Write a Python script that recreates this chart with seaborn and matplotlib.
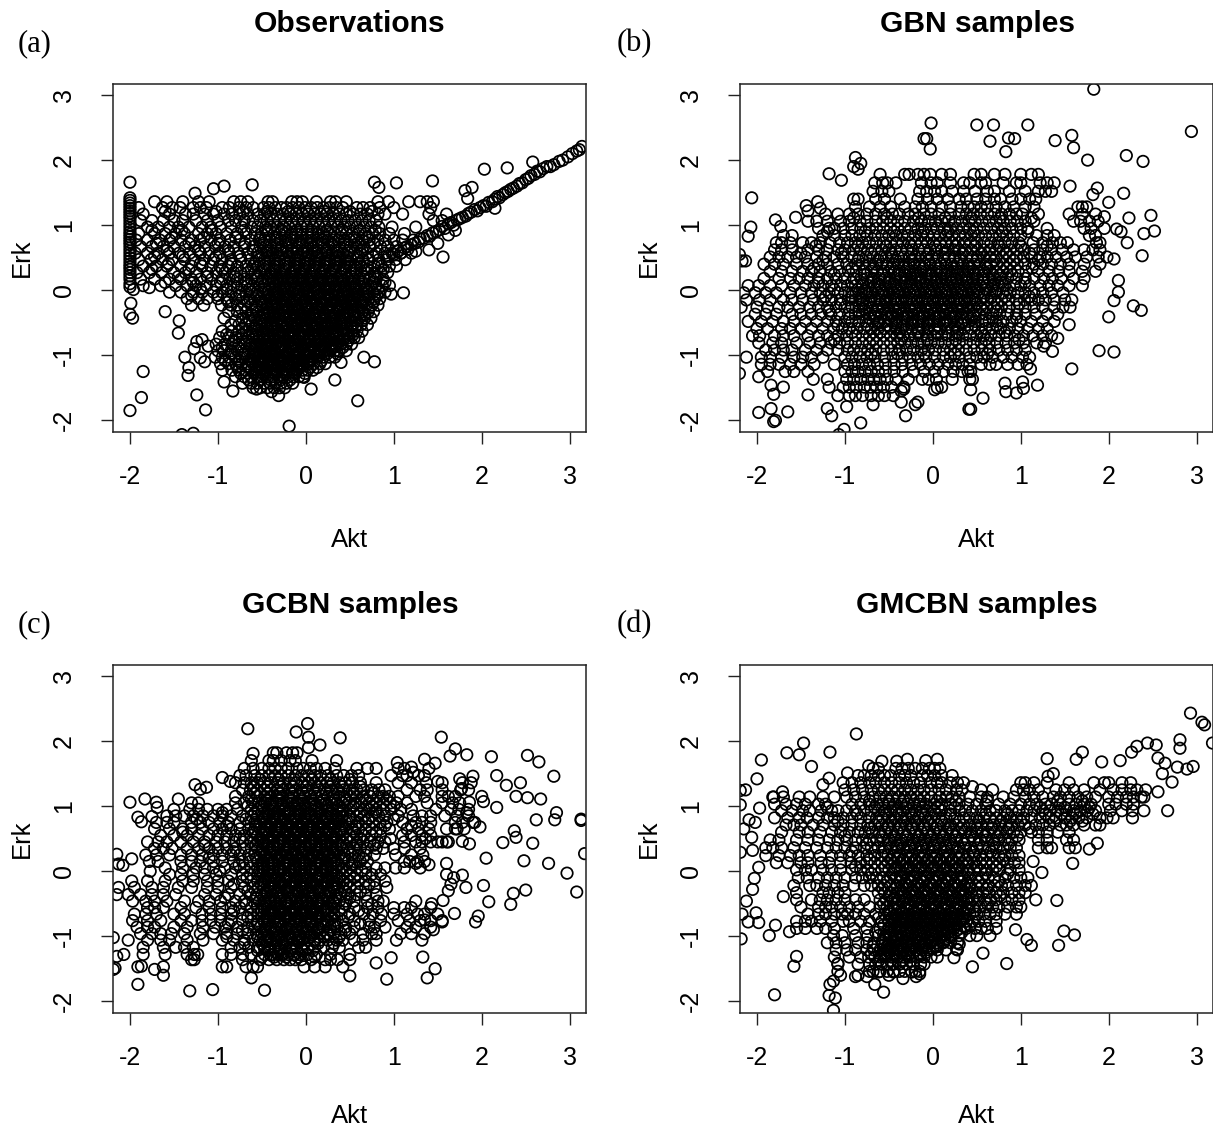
import pandas as pd
import matplotlib
matplotlib.use('Agg')
import matplotlib.pyplot as plt
import seaborn as sns

ticks = [-2, -1, 0, 1, 2, 3]

# ---- (a) Observations
obs_col_y = [1.42,1.38,1.34,1.3,1.26,1.22,1.18,1.14,1.1,1.05,1.0,.95,.9,.86,.82,.78,.74,.7,.65,.6,.55,.5,.45,.4,.36,.32,.27,.22,.17,.1,.05]
obs_pts = [(-2,1.66),(2.03,1.86),(2.29,1.88),(2.58,1.97),(3.14,2.21),(-1.05,1.56),(-.93,1.6),(-.61,1.62),(-1.26,1.49),(.78,1.66),(.83,1.58),(1.03,1.65),(1.44,1.68),
(1.56,.51),(1.11,-.04),(.97,-.06),(1.81,1.53),(1.89,1.58),(1.84,1.41),(-1.6,-.33),(-1.99,-.2),(-2,-.37),(-1.97,-.43),(-1.96,.01),(-1.78,.04),(-1.44,-.47),(-1.45,-.66),
(-1.85,-1.25),(-1.87,-1.65),(-2,-1.85),(-1.24,-1.61),(-1.14,-1.84),(-1.34,-1.31),(-1.33,-1.19),(-1.375,-1.03),(-.19,-2.09),(-1.28,-2.2),(-1.41,-2.22),(.59,-1.7),(.33,-1.38),
(.06,-1.52),(.78,-1.1),(.66,-1.03),(.4,-1.11),(-.31,-1.62),(-.39,-1.56),(-.83,-1.55),(-.56,-1.52),(-.93,-1.41),(-.02,-1.34),(.13,-1.19),(-1.24,-.79),(-1.18,-.76),(-1.2,-1.04),(-1.15,-1.1),(-1.11,-.86),(-1.27,-.9),
(1.0,.55),(1.05,.6),(1.08,.57),(1.12,.65),(1.16,.63),(1.2,.7),(1.24,.72),(1.28,.74),(1.3,.79),(1.34,.8),(1.38,.84),(1.41,.83),(1.44,.88),(1.48,.9),(1.52,.93),(1.55,.98),(1.58,.95),(1.62,1.02),(1.65,1.04),(1.68,1.0),
(1.72,1.08),(1.75,1.1),(1.78,1.12),(1.82,1.14),(1.85,1.18),(1.88,1.2),(1.92,1.24),(1.95,1.22),(1.98,1.27),(2.02,1.3),(2.05,1.29),(2.08,1.35),(2.12,1.36),(2.15,1.4),(2.18,1.44),(2.2,1.42),(2.24,1.47),(2.27,1.5),
(2.3,1.52),(2.33,1.55),(2.36,1.57),(2.4,1.6),(2.43,1.64),(2.46,1.65),(2.5,1.7),(2.53,1.72),(2.56,1.76),(2.6,1.78),(2.63,1.83),(2.66,1.82),(2.7,1.87),(2.74,1.9),(2.78,1.9),(2.82,1.93),(2.88,1.98),(2.92,2.0),(2.98,2.05),(3.03,2.1),(3.08,2.14),(3.11,2.16),
(1.25,.6),(1.4,.62),(1.5,.72),(1.7,.92),(2.15,1.26),(1.62,.85)]
obs_rows = [
(1.36,[-1.72,-1.58,-1.4,-1.22,-1.1,-.82,-.74,-.66,-.43,-.38,-.16,-.1,-.04,.12,.28,.34,.46,.82,.94,1.17,1.3,1.38,1.45]),
(1.27,[-1.9,-1.63,-1.52,-1.43,-1.28,-1.2,-1.13,-.95,-.87,-.76,-.68,-.6,-.48,-.42,-.35,-.28,-.22,-.15,-.08,-.01,.06,.13,.2,.27,.35,.42,.58,.65,.73,.84,1.0,1.42]),
(1.17,[-1.85,-1.55,-1.37,-1.28,-1.15,-1.05,-.93,-.84,-.75,-.66,-.55,-.47,-.4,-.33,-.26,-.18,-.11,-.04,.03,.1,.17,.24,.31,.38,.46,.54,.62,.7,.82,.9,1.1,1.4,1.6]),
(1.07,[-1.88,-1.75,-1.62,-1.5,-1.4,-1.25,-1.12,-1.0,-.88,-.8,-.7,-.6,-.52,-.44,-.37,-.3,-.23,-.16,-.09,-.02,.05,.12,.19,.26,.33,.4,.48,.56,.64,.72,.8,1.45,1.55]),
(.97,[-1.8,-1.68,-1.55,-1.45,-1.33,-1.18,-1.08,-.97,-.85,-.73,-.62,-.55,-.46,-.4,-.32,-.25,-.19,-.12,-.05,.01,.08,.15,.22,.29,.36,.43,.5,.58,.66,.74,.83,.98,1.25]),
(.87,[-1.9,-1.72,-1.6,-1.48,-1.38,-1.22,-1.12,-1.02,-.9,-.78,-.68,-.58,-.5,-.43,-.36,-.3,-.24,-.17,-.11,-.05,.02,.08,.14,.2,.27,.33,.4,.46,.53,.6,.68,.76,.84,.95,1.12]),
(.77,[-1.93,-1.8,-1.66,-1.55,-1.42,-1.3,-1.2,-1.08,-.98,-.86,-.75,-.63,-.53,-.47,-.41,-.35,-.29,-.23,-.17,-.11,-.05,.01,.07,.13,.19,.25,.31,.37,.44,.5,.57,.64,.72,.82,.9,1.0,1.1,1.22]),
(.67,[-1.88,-1.75,-1.62,-1.5,-1.37,-1.26,-1.15,-1.03,-.92,-.82,-.7,-.6,-.52,-.46,-.4,-.34,-.28,-.22,-.16,-.1,-.04,.02,.08,.14,.2,.26,.32,.38,.44,.51,.58,.66,.73,.85,.93,1.03,1.15]),
(.57,[-1.94,-1.8,-1.68,-1.55,-1.44,-1.32,-1.2,-1.1,-.98,-.87,-.77,-.66,-.55,-.5,-.44,-.38,-.33,-.27,-.21,-.15,-.1,-.04,.02,.07,.13,.18,.24,.3,.36,.42,.48,.55,.62,.7,.8,.9,.98,1.08,1.2]),
(.47,[-1.9,-1.76,-1.63,-1.52,-1.38,-1.27,-1.16,-1.05,-.95,-.85,-.74,-.63,-.53,-.47,-.41,-.35,-.3,-.24,-.18,-.12,-.07,-.01,.05,.1,.16,.22,.27,.33,.39,.45,.51,.58,.65,.72,.83,.92,1.02,1.13]),
(.37,[-1.85,-1.7,-1.58,-1.42,-1.3,-1.18,-1.08,-.98,-.88,-.78,-.68,-.6,-.54,-.48,-.42,-.36,-.31,-.25,-.19,-.13,-.08,-.02,.04,.09,.15,.21,.26,.32,.38,.44,.5,.56,.63,.7,.78,.86,.95,1.03]),
(.27,[-1.92,-1.78,-1.64,-1.5,-1.37,-1.25,-1.12,-1.02,-.92,-.82,-.74,-.66,-.58,-.52,-.46,-.4,-.34,-.29,-.23,-.17,-.12,-.06,0,.05,.11,.17,.22,.28,.34,.4,.45,.51,.57,.63,.7,.78,.85,.93]),
(.17,[-1.88,-1.72,-1.55,-1.42,-1.3,-1.2,-1.07,-.95,-.87,-.78,-.7,-.62,-.55,-.49,-.43,-.37,-.32,-.26,-.2,-.15,-.09,-.03,.02,.08,.14,.19,.25,.31,.36,.42,.48,.54,.6,.66,.72,.8,.88]),
(.07,[-1.85,-1.65,-1.48,-1.35,-1.25,-1.13,-1.02,-.9,-.82,-.73,-.66,-.6,-.53,-.47,-.41,-.35,-.3,-.24,-.18,-.13,-.07,-.01,.04,.1,.16,.21,.27,.33,.38,.44,.5,.56,.61,.67,.74,.8,.87,.95]),
(-.03,[-1.55,-1.42,-1.28,-1.18,-1.05,-.95,-.85,-.76,-.68,-.61,-.55,-.49,-.43,-.37,-.32,-.26,-.2,-.15,-.09,-.03,.02,.08,.14,.19,.25,.31,.36,.42,.48,.53,.59,.65,.7,.76,.83,.9]),
(-.13,[-1.35,-1.22,-1.12,-1.0,-.9,-.8,-.72,-.64,-.58,-.52,-.46,-.4,-.35,-.29,-.23,-.18,-.12,-.06,-.01,.05,.11,.16,.22,.28,.33,.39,.45,.5,.56,.61,.67,.72,.78,.84]),
(-.23,[-1.3,-1.16,-.96,-.85,-.78,-.7,-.62,-.56,-.5,-.44,-.39,-.33,-.27,-.22,-.16,-.1,-.05,.01,.07,.12,.18,.24,.29,.35,.41,.46,.52,.57,.63,.69,.75,.82]),
(-.33,[-.88,-.78,-.68,-.6,-.54,-.48,-.42,-.37,-.31,-.25,-.2,-.14,-.08,-.03,.03,.09,.14,.2,.26,.31,.37,.43,.48,.54,.59,.65,.71,.77]),
(-.43,[-.93,-.72,-.65,-.58,-.52,-.46,-.4,-.35,-.29,-.23,-.18,-.12,-.06,-.01,.05,.11,.16,.22,.28,.33,.39,.45,.5,.56,.61,.67,.74]),
(-.53,[-.85,-.76,-.69,-.62,-.56,-.5,-.44,-.38,-.33,-.27,-.21,-.16,-.1,-.04,.01,.07,.13,.18,.24,.3,.35,.41,.47,.52,.58,.63,.7]),
(-.63,[-.95,-.84,-.76,-.68,-.61,-.55,-.49,-.43,-.37,-.32,-.26,-.2,-.15,-.09,-.03,.02,.08,.14,.19,.25,.31,.36,.42,.48,.53,.58,.64]),
(-.73,[-.98,-.88,-.8,-.72,-.65,-.59,-.53,-.47,-.41,-.36,-.3,-.24,-.19,-.13,-.07,-.02,.04,.1,.15,.21,.27,.32,.38,.44,.49,.55,.6]),
(-.83,[-1.02,-.92,-.84,-.76,-.69,-.63,-.57,-.51,-.45,-.39,-.34,-.28,-.22,-.17,-.11,-.05,0,.06,.12,.17,.23,.29,.34,.4,.46,.52]),
(-.93,[-1.0,-.93,-.85,-.78,-.71,-.65,-.59,-.53,-.47,-.41,-.36,-.3,-.24,-.19,-.13,-.07,-.02,.04,.1,.15,.21,.27,.33,.38,.46]),
(-1.03,[-1.03,-.95,-.87,-.8,-.73,-.67,-.6,-.54,-.48,-.43,-.37,-.31,-.26,-.2,-.14,-.09,-.03,.03,.08,.14,.2,.27,.33]),
(-1.13,[-.97,-.88,-.8,-.73,-.66,-.6,-.54,-.48,-.43,-.37,-.31,-.26,-.2,-.14,-.09,-.03,.03,.09,.16,.22]),
(-1.23,[-.95,-.84,-.76,-.68,-.62,-.56,-.5,-.44,-.38,-.33,-.27,-.21,-.16,-.1,-.04,.02,.08]),
(-1.33,[-.8,-.7,-.62,-.55,-.49,-.43,-.37,-.31,-.26,-.2,-.14,-.08,-.03]),
(-1.43,[-.72,-.62,-.55,-.47,-.41,-.35,-.28,-.22,-.15]),
(-1.5,[-.6,-.52,-.44,-.36,-.3,-.24]),
# second pass over the dark parts
(1.21,[-1.6,-1.02,-.71,-.44,-.2,.01,.21,.5,.75]),
(.92,[-1.75,-1.41,-1.07,-.7,-.45,-.27,-.1,.06,.24,.41,.61,.79]),
(.81,[-1.52,-1.16,-.8,-.52,-.33,-.14,.04,.22,.39,.55,.7]),
(.72,[-1.7,-1.33,-1.0,-.69,-.49,-.32,-.2,-.07,.05,.18,.29,.43,.59,.77]),
(.61,[-1.58,-1.22,-.88,-.6,-.44,-.29,-.16,-.02,.1,.23,.35,.49,.64]),
(.52,[-1.72,-1.4,-1.02,-.75,-.54,-.42,-.31,-.19,-.09,.03,.13,.26,.36,.47,.6,.76,.94]),
(.41,[-1.56,-1.2,-.85,-.58,-.45,-.33,-.22,-.1,.01,.12,.24,.35,.47,.61,.82]),
(.32,[-1.75,-1.33,-.95,-.62,-.47,-.36,-.24,-.13,-.02,.09,.2,.31,.43,.55,.7,.88]),
(.21,[-1.45,-1.12,-.8,-.55,-.4,-.28,-.16,-.05,.06,.18,.29,.4,.52,.66,.78]),
(.12,[-1.6,-1.28,-.97,-.68,-.5,-.37,-.26,-.14,-.03,.07,.19,.3,.41,.53,.64,.77,.9]),
(.02,[-1.2,-.9,-.64,-.47,-.35,-.22,-.11,0,.11,.22,.34,.45,.57,.69,.82]),
(-.08,[-1.3,-1.0,-.75,-.55,-.42,-.31,-.2,-.08,.03,.14,.25,.37,.48,.6,.71,.81]),
(-.18,[-.88,-.66,-.5,-.38,-.26,-.14,-.03,.08,.19,.31,.42,.54,.65,.77]),
(-.28,[-.74,-.57,-.44,-.32,-.21,-.09,.02,.13,.25,.36,.48,.6,.72]),
(-.38,[-.62,-.48,-.37,-.25,-.14,-.03,.09,.2,.31,.43,.54,.67]),
(-.47,[-.8,-.64,-.5,-.39,-.28,-.16,-.05,.06,.18,.29,.4,.52,.64]),
(-.58,[-.72,-.58,-.46,-.35,-.23,-.12,-.01,.1,.22,.33,.45,.56]),
(-.68,[-.9,-.73,-.6,-.48,-.37,-.26,-.14,-.03,.09,.2,.31,.43,.54]),
(-.78,[-.82,-.67,-.54,-.43,-.31,-.2,-.09,.03,.14,.25,.37,.48]),
(-.88,[-.95,-.77,-.62,-.5,-.38,-.27,-.15,-.04,.07,.19,.3,.42]),
(-.98,[-.85,-.7,-.57,-.45,-.34,-.22,-.11,0,.12,.24,.36]),
(-1.08,[-.92,-.76,-.63,-.51,-.4,-.28,-.17,-.06,.06,.18]),
(-1.18,[-.78,-.65,-.53,-.41,-.3,-.18,-.07,.05]),
(-1.28,[-.74,-.59,-.46,-.35,-.23,-.12,-.01]),
(-1.38,[-.65,-.52,-.4,-.29,-.18]),
# third pass, blackest part of the lower blob
(.15,[-.33,-.21,-.08,.04,.17,.29,.43]),
(.04,[-.38,-.25,-.12,.01,.14,.27,.4,.55]),
(-.06,[-.36,-.23,-.1,.03,.16,.29,.42,.57]),
(-.16,[-.41,-.28,-.15,-.02,.11,.24,.37,.5,.63]),
(-.26,[-.39,-.26,-.13,0,.13,.26,.39,.52]),
(-.36,[-.44,-.31,-.18,-.05,.08,.21,.34,.47,.6]),
(-.41,[-.36,-.23,-.1,.03,.16,.29,.42,.55]),
(-.51,[-.47,-.34,-.21,-.08,.05,.18,.31,.44]),
(-.56,[-.53,-.4,-.27,-.14,-.01,.12,.25,.38,.51]),
(-.66,[-.45,-.32,-.19,-.06,.07,.2,.33,.46]),
(-.71,[-.56,-.43,-.3,-.17,-.04,.09,.22,.35]),
(-.76,[-.49,-.36,-.23,-.1,.03,.16,.29,.42]),
(-.86,[-.57,-.44,-.31,-.18,-.05,.08,.21,.34]),
(-.91,[-.49,-.36,-.23,-.1,.03,.16,.29]),
(-.96,[-.6,-.47,-.34,-.21,-.08,.05,.18]),
(-1.01,[-.52,-.39,-.26,-.13,0,.13]),
(-1.06,[-.59,-.46,-.33,-.2,-.07,.06]),
(-1.11,[-.51,-.38,-.25,-.12,.01]),
(-1.16,[-.57,-.44,-.31,-.18,-.05]),
(-1.21,[-.49,-.36,-.23,-.1]),
(-1.26,[-.53,-.4,-.27,-.14]),
]

# ---- (b) GBN samples
gbn_pts = [(1.83,3.09),(2.94,2.44),(-.02,2.57),(.5,2.54),(.69,2.54),(1.08,2.54),(-.1,2.33),(-.07,2.33),(-.03,2.17),(.65,2.29),(.86,2.34),(.93,2.33),(.83,2.13),(1.39,2.3),(1.58,2.38),(1.6,2.19),(1.76,2.0),(2.2,2.07),(2.39,1.98),
(1.56,1.6),(1.87,1.57),(2.17,1.49),(2.0,1.35),(1.82,1.47),(2.48,1.15),(2.23,1.11),(2.52,.91),(2.4,.87),(2.21,.73),(2.38,.53),(2.06,.48),(2.09,.94),(2.14,.9),(1.95,1.13),(2.11,.15),(2.11,-.03),(2.06,-.16),(2.28,-.24),(2.37,-.31),(2.0,-.41),(1.89,-.93),(2.06,-.95),(1.58,-1.21),
(-2.06,1.42),(-1.18,1.79),(-1.04,1.69),(-.88,2.04),(-.82,1.95),(-.9,1.9),(-.85,1.86),(-1.79,1.08),(-1.73,.98),(-2.07,.97),(-2.1,.83),(-1.56,1.12),(-1.44,1.3),(-1.31,1.36),(-1.42,1.22),(-1.28,1.26),(-2.13,.45),(-2.2,.55),(-2.17,.45),(-2.12,-1.03),(-2.2,-1.28),(-1.98,-1.33),
(-1.84,-1.46),(-1.7,-1.49),(-1.81,-1.6),(-1.42,-1.61),(-1.98,-1.88),(-1.84,-1.82),(-1.65,-1.87),(-1.79,-2.0),(-1.81,-2.02),(-1.2,-1.82),(-1.15,-1.93),(-.98,-1.79),(-.82,-2.04),(-1.01,-2.14),(-1.07,-2.22),(-.68,-1.76),(-.36,-1.72),(-.2,-1.76),(-.17,-1.72),(-.31,-1.93),(.41,-1.83),(.43,-1.83),(.57,-1.66),(.43,-1.53),(.83,-1.56),(.95,-1.58),(1.03,-1.51),(1.19,-1.46),(.82,-1.43),(1.02,-1.41),(1.11,-1.21),(1.36,-.94),(1.26,-.86),(1.42,-.74),(1.55,-.53),(-.36,-1.55),(-.33,-1.52),(.05,-1.5),(.02,-1.53)]
gbn_rows = [
(1.78,[-.6,-.32,-.27,-.17,-.1,-.03,.1,.2,.47,.55,.7,.82,1.0,1.12,1.2]),
(1.65,[-.66,-.57,-.52,-.42,-.13,-.02,.05,.2,.35,.42,.55,.6,.8,.95,1.0,1.22,1.3,1.38]),
(1.52,[-.68,-.58,-.5,-.15,-.07,.02,.1,.22,.35,.48,.62,.7,.87,1.05,1.2,1.28,1.35]),
(1.4,[-.9,-.85,-.65,-.55,-.37,-.17,-.06,.05,.17,.3,.38,.5,.6,.7,.77,.9,1.0,1.1,1.17]),
(1.28,[-.88,-.72,-.6,-.48,-.32,-.2,-.12,-.02,.1,.2,.32,.4,.47,.55,.62,.72,.82,.92,1.05,1.15,1.7,1.75,1.65]),
(1.17,[-1.22,-1.08,-.95,-.85,-.75,-.65,-.55,-.46,-.38,-.28,-.2,-.1,-.02,.07,.2,.3,.38,.46,.54,.62,.7,.78,.87,.95,1.02,1.2,1.55,1.7,1.85]),
(1.06,[-1.42,-1.32,-1.2,-1.05,-.95,-.83,-.75,-.65,-.57,-.48,-.4,-.32,-.22,-.13,-.05,.03,.1,.18,.25,.33,.41,.48,.56,.64,.72,.8,.88,.96,1.05,1.15,1.6,1.68,1.78,1.88]),
(.95,[-1.3,-1.18,-1.12,-1.02,-.92,-.82,-.72,-.64,-.56,-.48,-.4,-.32,-.25,-.17,-.09,-.02,.05,.13,.2,.27,.35,.42,.5,.58,.66,.74,.82,.9,1.0,1.08,1.3,1.72,1.8,1.95]),
(.84,[-1.7,-1.6,-1.25,-1.12,-1.0,-.92,-.83,-.75,-.66,-.58,-.5,-.42,-.35,-.28,-.2,-.13,-.06,.01,.08,.15,.22,.3,.37,.44,.52,.6,.68,.76,.84,.92,1.0,1.18,1.3,1.38,1.78,1.85]),
(.73,[-1.78,-1.72,-1.62,-1.48,-1.38,-1.28,-1.17,-1.06,-.97,-.88,-.8,-.72,-.64,-.56,-.48,-.41,-.34,-.27,-.2,-.13,-.06,.01,.08,.15,.22,.29,.36,.43,.5,.58,.66,.74,.82,.9,.98,1.14,1.25,1.36,1.45,1.53,1.86,1.9]),
(.62,[-1.8,-1.72,-1.6,-1.42,-1.3,-1.2,-1.08,-1.0,-.9,-.82,-.74,-.66,-.58,-.5,-.43,-.36,-.29,-.23,-.16,-.1,-.03,.04,.1,.17,.24,.3,.37,.44,.51,.58,.65,.72,.8,.88,.96,1.04,1.15,1.25,1.35,1.47,1.6,1.72,1.82,1.9]),
(.51,[-1.85,-1.75,-1.65,-1.55,-1.45,-1.32,-1.22,-1.12,-1.02,-.92,-.84,-.76,-.68,-.6,-.53,-.46,-.39,-.33,-.27,-.2,-.14,-.08,-.01,.05,.12,.18,.25,.31,.38,.45,.51,.58,.65,.72,.79,.87,.95,1.03,1.12,1.22,1.3,1.4,1.52,1.62,1.75,1.88,1.98]),
(.4,[-1.92,-1.8,-1.7,-1.55,-1.42,-1.3,-1.2,-1.08,-.98,-.88,-.8,-.72,-.65,-.58,-.52,-.45,-.39,-.33,-.27,-.21,-.15,-.09,-.03,.03,.09,.15,.21,.28,.34,.4,.47,.53,.6,.66,.73,.8,.88,.96,1.05,1.15,1.25,1.35,1.45,1.55,1.72,1.9]),
(.29,[-1.85,-1.72,-1.6,-1.48,-1.38,-1.28,-1.16,-1.06,-.96,-.87,-.78,-.7,-.63,-.56,-.5,-.44,-.38,-.32,-.26,-.2,-.14,-.08,-.02,.04,.1,.16,.22,.28,.34,.4,.46,.52,.58,.65,.72,.8,.88,.97,1.06,1.2,1.32,1.43,1.55,1.7,1.85]),
(.18,[-1.92,-1.75,-1.62,-1.52,-1.42,-1.3,-1.2,-1.1,-1.0,-.9,-.82,-.75,-.68,-.61,-.55,-.49,-.43,-.37,-.31,-.25,-.2,-.14,-.08,-.02,.04,.1,.15,.21,.27,.33,.39,.45,.51,.57,.63,.7,.77,.85,.95,1.05,1.15,1.26,1.36,1.46,1.6,1.72]),
(.07,[-2.1,-1.98,-1.85,-1.72,-1.58,-1.45,-1.35,-1.25,-1.15,-1.05,-.97,-.88,-.8,-.73,-.66,-.6,-.54,-.48,-.42,-.36,-.3,-.24,-.18,-.12,-.06,0,.06,.12,.18,.24,.3,.36,.42,.48,.54,.61,.68,.75,.82,.92,1.0,1.1,1.22,1.32,1.42,1.55,1.7]),
(-.04,[-2.15,-2.02,-1.9,-1.78,-1.62,-1.5,-1.38,-1.28,-1.18,-1.08,-1.0,-.92,-.84,-.76,-.69,-.62,-.56,-.5,-.44,-.38,-.32,-.26,-.2,-.14,-.08,-.02,.04,.1,.16,.22,.28,.34,.4,.46,.52,.58,.65,.72,.8,.88,.97,1.05,1.15,1.25,1.35,1.48]),
(-.15,[-2.12,-1.97,-1.85,-1.7,-1.6,-1.48,-1.36,-1.25,-1.15,-1.05,-.96,-.88,-.8,-.73,-.66,-.6,-.54,-.48,-.42,-.36,-.3,-.24,-.18,-.12,-.06,0,.06,.12,.18,.24,.3,.36,.42,.48,.55,.62,.7,.78,.86,.95,1.04,1.12,1.2,1.28,1.38,1.5,1.58]),
(-.26,[-2.18,-2.0,-1.88,-1.75,-1.65,-1.52,-1.4,-1.3,-1.2,-1.1,-1.0,-.92,-.84,-.76,-.69,-.62,-.56,-.5,-.44,-.38,-.32,-.26,-.2,-.14,-.08,-.02,.04,.1,.16,.22,.28,.34,.4,.47,.54,.62,.7,.78,.87,.96,1.05,1.15,1.25,1.38,1.48,1.56]),
(-.37,[-2.02,-1.9,-1.78,-1.6,-1.5,-1.38,-1.27,-1.16,-1.06,-.96,-.88,-.8,-.72,-.65,-.58,-.52,-.46,-.4,-.34,-.28,-.22,-.16,-.1,-.04,.02,.08,.14,.2,.26,.32,.39,.46,.53,.6,.68,.76,.85,.95,1.05,1.17,1.3,1.42]),
(-.48,[-2.1,-1.95,-1.82,-1.7,-1.58,-1.45,-1.32,-1.2,-1.1,-1.0,-.92,-.84,-.76,-.68,-.61,-.54,-.47,-.41,-.35,-.29,-.23,-.17,-.11,-.05,.01,.07,.14,.2,.27,.34,.41,.48,.56,.64,.72,.8,.9,1.0,1.12,1.25,1.38]),
(-.59,[-2.0,-1.88,-1.72,-1.62,-1.5,-1.38,-1.25,-1.13,-1.03,-.95,-.86,-.78,-.7,-.62,-.55,-.48,-.42,-.36,-.3,-.24,-.17,-.11,-.05,.02,.08,.15,.22,.29,.36,.44,.52,.6,.68,.77,.87,.97,1.08,1.2,1.3]),
(-.7,[-2.05,-1.97,-1.8,-1.7,-1.58,-1.42,-1.3,-1.2,-1.08,-.98,-.88,-.8,-.72,-.64,-.56,-.48,-.41,-.34,-.27,-.2,-.13,-.06,.02,.1,.18,.26,.34,.42,.5,.58,.66,.75,.84,.93,1.03,1.14,1.25,1.35]),
(-.81,[-1.98,-1.82,-1.72,-1.55,-1.4,-1.28,-1.16,-1.06,-.97,-.88,-.8,-.72,-.64,-.56,-.48,-.4,-.32,-.25,-.17,-.1,-.02,.06,.14,.22,.3,.38,.46,.55,.64,.73,.83,.93,1.03,1.18,1.28]),
(-.92,[-1.9,-1.8,-1.7,-1.6,-1.45,-1.32,-1.2,-1.08,-.97,-.9,-.82,-.74,-.65,-.56,-.47,-.38,-.3,-.22,-.13,-.05,.03,.12,.2,.29,.38,.47,.56,.65,.75,.85,.95,1.05]),
(-1.03,[-1.95,-1.85,-1.72,-1.58,-1.48,-1.38,-1.25,-1.0,-.92,-.83,-.75,-.66,-.55,-.45,-.35,-.26,-.17,-.08,.02,.12,.2,.3,.42,.5,.58,.68,.8,.9,1.02,1.1]),
(-1.14,[-1.95,-1.85,-1.75,-1.62,-1.5,-1.35,-1.12,-.97,-.89,-.8,-.72,-.63,-.54,-.44,-.35,-.24,-.14,-.04,.06,.17,.26,.34,.42,.55,.65,.72,.85,.97,1.07]),
(-1.25,[-1.88,-1.68,-1.58,-1.42,-1.0,-.92,-.85,-.77,-.7,-.62,-.54,-.44,-.34,-.22,-.1,.02,.12,.23,.33,.4,.43]),
(-1.37,[-1.36,-1.2,-.98,-.9,-.82,-.74,-.67,-.6,-.52,-.42,-.28,-.12,-.05,.04,.22,.42,.45]),
(-1.49,[-1.18,-1.02,-.95,-.87,-.78,-.71,-.64,-.56,-.47,-.33,.1]),
(-1.62,[-1.08,-.95,-.88,-.8,-.7,-.62,-.55,-.45]),
# second pass over the dark parts
(1.11,[-.9,-.52,-.16,.14,.44,.77,1.12]),
(.9,[-1.2,-.77,-.44,-.11,.17,.46,.79,1.08]),
(.68,[-1.33,-.85,-.53,-.25,.03,.26,.48,.75,1.0,1.3]),
(.57,[-1.5,-1.04,-.7,-.47,-.24,-.05,.14,.34,.55,.83,1.1]),
(.46,[-1.25,-.85,-.62,-.42,-.24,-.05,.13,.31,.5,.7,.92,1.2]),
(.34,[-1.35,-.92,-.67,-.47,-.29,-.11,.07,.25,.43,.62,.84,1.13]),
(.24,[-1.12,-.78,-.58,-.4,-.23,-.05,.13,.3,.48,.68,.9]),
(.12,[-1.3,-.92,-.7,-.51,-.33,-.15,.03,.21,.39,.57,.78,1.05]),
(.01,[-1.12,-.85,-.65,-.47,-.29,-.11,.07,.25,.43,.61,.84]),
(-.1,[-1.22,-.92,-.7,-.51,-.33,-.15,.03,.21,.39,.58,.82,1.1]),
(-.21,[-1.05,-.8,-.59,-.41,-.23,-.05,.13,.31,.5,.73,.98]),
(-.32,[-1.18,-.84,-.63,-.43,-.25,-.07,.11,.29,.49,.72]),
(-.43,[-.95,-.72,-.5,-.32,-.14,.04,.23,.44,.68,.95]),
(-.54,[-1.08,-.75,-.52,-.33,-.14,.05,.25,.48,.73]),
(-.65,[-.92,-.6,-.38,-.17,.05,.28,.55,.82]),
(-.76,[-1.12,-.68,-.36,-.06,.26,.6,.98]),
(-.98,[-.7,-.4,-.1,.25,.62]),
# third pass, blackest band
(.23,[-.32,-.17,-.02,.2,.37,.57,.76]),
(.1,[-.8,-.62,-.44,-.26,-.08,.1,.28,.46,.7]),
(-.01,[-.78,-.58,-.4,-.22,-.04,.14,.32,.5,.71]),
(-.12,[-.82,-.64,-.44,-.27,-.09,.09,.27,.45,.66]),
(-.18,[-.72,-.54,-.36,-.18,0,.18,.36]),
(-.29,[-.78,-.57,-.39,-.21,-.03,.15,.33,.56]),
(-.4,[-.66,-.47,-.29,-.11,.07,.25,.47]),
(-.51,[-.62,-.42,-.24,-.06,.12,.32]),
]

# ---- (c) GCBN samples
gcbn_pts = [(-.66,2.19),(.02,2.27),(-.11,2.14),(.03,2.06),(.39,2.05),(.16,1.94),(.03,1.9),(1.54,2.06),(1.7,1.88),(1.64,1.77),(1.83,1.79),(2.11,1.76),(2.52,1.78),(2.65,1.68),(2.82,1.46),(2.17,1.47),(2.28,1.32),(2.44,1.36),(2.39,1.15),(2.52,1.13),(2.67,1.11),(2.17,.98),(2.85,.9),(2.83,.79),(2.62,.79),(3.13,.8),(3.13,.78),(2.37,.62),(2.39,.52),(2.24,.44),(2.58,.43),(2.05,.2),(2.48,.16),(2.76,.12),(3.17,.27),(2.97,-.03),(3.08,-.32),(2.5,-.29),(2.36,-.34),(2.33,-.51),(2.08,-.47),(2.02,-.22),(1.96,-.69),(1.93,-.78),(1.69,-.65),(1.47,-1.5),(1.38,-1.64),(1.33,-1.32),(.92,-1.66),(.97,-1.33),(.8,-1.41),(.5,-1.61),(-.47,-1.83),(-.62,-1.64),(-1.06,-1.82),(-1.32,-1.84),(-1.91,-1.74),(-1.62,-1.6),(-1.72,-1.51),(-1.87,-1.46),(-1.91,-1.47),(-2.17,-1.49),(-2.19,-1.51),(-2.15,-1.31),(-2.07,-1.28),(-2.19,-1.02),(-2.0,1.06),(-1.83,1.11),(-1.7,1.06),(-1.69,.98),(-1.91,.83),(-1.87,.76),(-1.75,.84),(-1.98,.19),(-2.15,.26),(-2.13,.11),(-2.08,.09),(-1.77,0),(-1.45,1.11),(-1.26,1.33),(-1.2,1.26),(-1.13,1.29),(-.95,1.44),(-.86,1.38),(-.6,1.81),
(1.35,1.72),(1.47,1.66),(1.04,1.67),(1.2,1.6),(1.22,1.52),(1.5,1.38),(1.75,1.42),(1.9,1.46),(1.77,1.27),(1.86,1.06),(2.0,1.15),(2.02,1.07),(1.83,.9),(1.9,.75),(1.98,.68),(1.7,.65),(1.86,.42),(1.78,.46),(1.6,.45),(1.5,.45),(1.4,.1),(1.25,.12),(1.6,.12),(1.68,-.1),(1.62,-.3),(1.78,-.06),(1.82,-.25),(1.65,-.2),(1.56,-.45),(1.43,-.5),(1.35,-.75),(1.45,-.9),(1.55,-.78)]
gcbn_rows = [
(1.82,[-.37,-.33,-.22,-.15,-.1]),
(1.7,[-.62,-.42,-.37,-.28,-.18,-.12,.07,.35]),
(1.58,[-.7,-.6,-.5,-.42,-.35,-.28,-.2,-.1,-.03,.05,.12,.22,.33,.58,.7,.8,1.05,1.12,1.4]),
(1.47,[-.75,-.68,-.58,-.5,-.42,-.35,-.28,-.2,-.12,-.05,.03,.1,.17,.25,.35,.43,.52,.6,.97,1.1,1.15,1.28,1.35]),
(1.36,[-.8,-.7,-.62,-.55,-.47,-.4,-.32,-.25,-.18,-.11,-.04,.03,.1,.17,.24,.31,.38,.45,.53,.62,.8,1.05,1.2,1.37,1.55,1.78,1.88]),
(1.25,[-.72,-.63,-.55,-.47,-.4,-.33,-.26,-.19,-.12,-.05,.02,.08,.15,.22,.29,.36,.43,.5,.58,.66,.75,.83,.9,1.15,1.3,1.38,1.55,1.76,1.85]),
(1.15,[-.8,-.65,-.55,-.47,-.4,-.33,-.27,-.2,-.14,-.07,-.01,.05,.12,.18,.25,.31,.38,.44,.51,.58,.65,.73,.82,.88,.95,1.05,1.25,1.35,1.55,1.62,1.7]),
(1.05,[-1.3,-1.22,-.8,-.7,-.6,-.53,-.46,-.4,-.34,-.27,-.21,-.15,-.09,-.02,.04,.1,.16,.23,.29,.35,.42,.49,.56,.63,.72,.8,.88,.96,1.03,1.15,1.38,1.55,1.67,1.75]),
(.95,[-1.5,-1.32,-1.22,-1.12,-1.0,-.9,-.78,-.62,-.55,-.48,-.42,-.36,-.3,-.24,-.18,-.12,-.06,0,.06,.12,.18,.24,.3,.36,.43,.5,.58,.66,.72,.8,.88,.97,1.08,1.2,1.48,1.65,1.74,1.85]),
(.85,[-1.58,-1.48,-1.38,-1.28,-1.17,-1.05,-.95,-.85,-.72,-.62,-.55,-.49,-.43,-.37,-.31,-.25,-.19,-.13,-.07,-.01,.05,.11,.17,.23,.29,.35,.42,.5,.58,.66,.75,.83,.9,1.05,1.22,1.32,1.42,1.58,1.72,1.85]),
(.75,[-1.7,-1.58,-1.5,-1.3,-1.2,-1.1,-.98,-.88,-.75,-.65,-.58,-.52,-.46,-.4,-.34,-.28,-.22,-.16,-.1,-.04,.02,.08,.14,.2,.26,.32,.38,.45,.52,.6,.68,.76,.84,.92,1.1,1.25,1.32,1.42,1.7,1.78,1.92]),
(.65,[-1.72,-1.55,-1.4,-1.3,-1.18,-1.05,-.95,-.85,-.75,-.65,-.58,-.52,-.46,-.4,-.34,-.28,-.22,-.16,-.1,-.04,.02,.08,.14,.2,.26,.32,.39,.46,.53,.6,.68,.75,.85,.95,1.15,1.28,1.4,1.6,1.72,1.8]),
(.55,[-1.65,-1.5,-1.35,-1.22,-1.1,-1.0,-.9,-.8,-.7,-.62,-.55,-.49,-.43,-.37,-.31,-.25,-.19,-.13,-.07,-.01,.05,.11,.17,.23,.29,.35,.42,.5,.58,.66,.75,.85,1.1,1.2,1.32,1.42]),
(.45,[-1.8,-1.68,-1.58,-1.42,-1.28,-1.15,-1.02,-.92,-.82,-.72,-.63,-.55,-.49,-.43,-.37,-.31,-.25,-.19,-.13,-.07,-.01,.05,.11,.17,.23,.29,.35,.42,.5,.58,.65,.73,.82,.9,1.12,1.25,1.32,1.42,1.55,1.62]),
(.35,[-1.72,-1.62,-1.52,-1.35,-1.22,-1.1,-1.0,-.9,-.8,-.7,-.62,-.55,-.49,-.43,-.37,-.31,-.25,-.19,-.13,-.07,-.01,.05,.11,.17,.23,.29,.35,.41,.48,.55,.62,.7,.8,.88,1.0,1.12,1.3]),
(.25,[-1.82,-1.7,-1.55,-1.42,-1.3,-1.18,-1.05,-.95,-.85,-.75,-.65,-.58,-.52,-.46,-.4,-.34,-.28,-.22,-.16,-.1,-.04,.02,.08,.14,.2,.26,.32,.38,.44,.52,.6,.68,.78,1.02,1.2,1.33]),
(.15,[-1.78,-1.68,-1.42,-1.3,-1.2,-1.05,-.95,-.82,-.72,-.63,-.55,-.49,-.43,-.37,-.31,-.25,-.19,-.13,-.07,-.01,.05,.11,.17,.23,.29,.35,.41,.48,.55,.62,.7,1.12,1.18,1.27,1.35]),
(.05,[-1.6,-1.4,-1.25,-1.15,-1.05,-.92,-.8,-.7,-.62,-.55,-.49,-.43,-.37,-.31,-.25,-.19,-.13,-.07,-.01,.05,.11,.17,.23,.29,.35,.42,.5,.58,.68,.8,.9,1.02,1.12,1.3]),
(-.05,[-1.55,-1.42,-1.28,-1.15,-1.02,-.85,-.72,-.63,-.55,-.49,-.43,-.37,-.31,-.25,-.19,-.13,-.07,-.01,.05,.11,.17,.23,.29,.35,.42,.5,.58,.68,.75,.85,1.6]),
(-.15,[-1.98,-1.8,-1.6,-1.4,-1.28,-1.12,-1.0,-.88,-.72,-.62,-.55,-.48,-.42,-.36,-.3,-.24,-.18,-.12,-.06,0,.06,.12,.18,.24,.3,.36,.43,.5,.6,.68,.78,.9]),
(-.25,[-2.13,-1.95,-1.75,-1.62,-1.45,-1.3,-1.12,-1.0,-.85,-.7,-.6,-.54,-.48,-.42,-.36,-.3,-.24,-.18,-.12,-.06,0,.06,.12,.18,.24,.3,.36,.42,.5,.58,.68,.78,.92]),
(-.36,[-2.15,-2.02,-1.88,-1.75,-1.62,-1.48,-1.15,-1.02,-.88,-.75,-.63,-.56,-.5,-.44,-.38,-.32,-.26,-.2,-.14,-.08,-.02,.04,.1,.16,.22,.28,.34,.4,.48,.58,.68,.8]),
(-.46,[-1.97,-1.82,-1.72,-1.58,-1.38,-1.22,-1.1,-.97,-.8,-.7,-.6,-.53,-.47,-.41,-.35,-.29,-.23,-.17,-.11,-.05,.01,.07,.13,.19,.25,.31,.38,.46,.55,.7,.82,.88,1.25]),
(-.56,[-1.8,-1.72,-1.62,-1.42,-1.25,-1.1,-.95,-.85,-.75,-.62,-.55,-.48,-.42,-.36,-.3,-.24,-.18,-.12,-.06,0,.06,.12,.18,.25,.32,.42,.55,.7,.82,1.0,1.12,1.2,1.42]),
(-.66,[-1.95,-1.82,-1.7,-1.5,-1.38,-1.18,-1.08,-.97,-.85,-.72,-.62,-.55,-.48,-.42,-.36,-.3,-.24,-.18,-.12,-.06,0,.06,.12,.18,.25,.32,.4,.5,.66,.76,.86,1.0,1.15,1.27,1.35,1.5]),
(-.76,[-1.97,-1.8,-1.65,-1.42,-1.3,-1.18,-1.08,-.97,-.85,-.72,-.62,-.55,-.48,-.42,-.36,-.3,-.24,-.18,-.12,-.06,0,.06,.12,.18,.25,.33,.42,.55,.72,.85,1.05,1.18,1.3,1.42,1.55]),
(-.86,[-1.92,-1.8,-1.72,-1.5,-1.35,-1.17,-1.03,-.92,-.78,-.66,-.58,-.52,-.46,-.4,-.34,-.28,-.22,-.16,-.1,-.04,.02,.08,.14,.2,.28,.36,.45,.55,.72,.78,.9,1.15,1.25,1.42]),
(-.96,[-1.88,-1.75,-1.65,-1.53,-1.38,-1.2,-1.05,-.9,-.78,-.66,-.56,-.5,-.44,-.38,-.32,-.26,-.2,-.14,-.08,-.02,.04,.1,.16,.24,.32,.4,.5,.65,.75,.8,1.08,1.2,1.35]),
(-1.06,[-2.02,-1.8,-1.65,-1.55,-1.35,-1.17,-.95,-.82,-.7,-.6,-.52,-.46,-.4,-.34,-.28,-.22,-.16,-.1,-.04,.02,.09,.16,.25,.35,.42,.55,.65,.8,1.03,1.32]),
(-1.17,[-1.85,-1.62,-1.48,-1.38,-1.28,-.85,-.75,-.65,-.55,-.47,-.41,-.35,-.29,-.23,-.17,-.11,-.05,.02,.1,.2,.3,.38,.6,.68]),
(-1.28,[-1.85,-1.6,-1.35,-1.27,-1.23,-.95,-.85,-.72,-.62,-.47,-.38,-.32,-.26,-.2,-.14,-.07,.02,.12,.28,.5]),
(-1.36,[-1.3,-1.27,-.72,-.52,-.42,-.33,-.25,-.18,-.12,-.05,.06,.22,.28,.36,.5]),
(-1.47,[-1.62,-.95,-.9,-.68,-.6,-.55,-.02,.1,.22,.42]),
# second pass over the dark parts
(1.41,[-.52,-.31,-.13,.07,.28,.5]),
(1.3,[-.6,-.44,-.28,-.15,.01,.13,.27,.41,.62]),
(1.2,[-.58,-.43,-.3,-.16,-.03,.1,.23,.37,.54,.76]),
(1.1,[-.62,-.45,-.31,-.18,-.05,.07,.2,.33,.46,.68,.92]),
(1.0,[-.66,-.5,-.38,-.26,-.13,-.01,.11,.25,.38,.54,.75,1.0]),
(.9,[-.95,-.58,-.44,-.33,-.21,-.09,.03,.15,.27,.4,.62,.8]),
(.8,[-1.24,-.68,-.49,-.37,-.25,-.13,-.01,.11,.23,.35,.5,.71,1.0]),
(.7,[-.9,-.56,-.43,-.31,-.19,-.07,.05,.17,.29,.42,.57,.9,1.2]),
(.6,[-1.4,-.6,-.46,-.34,-.22,-.1,.02,.14,.26,.39,.55,.8]),
(.5,[-.75,-.52,-.4,-.28,-.16,-.04,.08,.2,.32,.46,.62,.96,1.36]),
(.4,[-1.15,-.57,-.44,-.32,-.2,-.08,.04,.16,.28,.4,.58,.78]),
(.3,[-.82,-.5,-.37,-.25,-.13,-.01,.11,.23,.35,.5]),
(.2,[-1.1,-.56,-.43,-.31,-.19,-.07,.05,.17,.29,.44,.65]),
(.1,[-.76,-.48,-.36,-.24,-.12,0,.12,.24,.37,.52]),
(0,[-.98,-.53,-.41,-.29,-.17,-.05,.07,.19,.31,.46,.64]),
(-.1,[-.67,-.46,-.34,-.22,-.1,.02,.14,.26,.39,.55]),
(-.2,[-.82,-.51,-.39,-.27,-.15,-.03,.09,.21,.33,.46,.72]),
(-.31,[-.66,-.45,-.33,-.21,-.09,.03,.15,.27,.44,.62]),
(-.41,[-.92,-.56,-.41,-.29,-.17,-.05,.07,.19,.33,.5]),
(-.51,[-.68,-.45,-.33,-.21,-.09,.03,.15,.28,.45,.75]),
(-.61,[-.82,-.51,-.39,-.27,-.15,-.03,.09,.22,.38,.6]),
(-.71,[-.66,-.45,-.33,-.21,-.09,.03,.15,.3,.48]),
(-.81,[-.88,-.55,-.43,-.31,-.19,-.07,.05,.17,.32,.62]),
(-.91,[-.72,-.47,-.35,-.23,-.11,.01,.13,.28,.45]),
(-1.01,[-.9,-.55,-.43,-.31,-.19,-.07,.05,.2,.38]),
(-1.11,[-.7,-.5,-.38,-.26,-.14,-.02,.14,.32]),
(-1.22,[-.55,-.43,-.29,-.17,-.04,.08]),
(-1.32,[-.5,-.36,-.22,-.09,.1]),
# third pass, black column
(1.03,[-.41,-.27,-.1,.06,.22]),
(.93,[-.4,-.24,-.08,.09,.25,.41]),
(.83,[-.46,-.29,-.11,.07,.24,.41]),
(.73,[-.39,-.22,-.04,.13,.3]),
(.63,[-.49,-.31,-.13,.05,.23,.4]),
(.53,[-.37,-.2,-.02,.15,.33]),
(.43,[-.47,-.29,-.11,.07,.25]),
(.33,[-.41,-.23,-.05,.13,.31]),
(.23,[-.47,-.29,-.11,.07,.25]),
(.13,[-.4,-.22,-.04,.14,.32]),
(.03,[-.47,-.29,-.11,.07,.25]),
(-.07,[-.4,-.22,-.04,.14,.32]),
(-.17,[-.47,-.29,-.11,.07,.25]),
(-.27,[-.4,-.22,-.04,.14,.32]),
(-.38,[-.47,-.29,-.11,.07,.25]),
(-.48,[-.4,-.22,-.04,.14,.32]),
(-.58,[-.47,-.29,-.11,.07,.25]),
(-.68,[-.4,-.22,-.04,.14,.32]),
(-.78,[-.47,-.29,-.11,.07,.25]),
(-.88,[-.4,-.22,-.04,.14]),
(-.98,[-.47,-.29,-.11,.07,.25]),
(-1.08,[-.44,-.26,-.08,.1]),
(-1.19,[-.47,-.31,-.14,.02]),
(-1.29,[-.4,-.28,-.13]),
]

# ---- (d) GMCBN samples
gmcbn_pts = [(-.87,2.11),(-1.47,1.97),(-1.66,1.82),(-1.52,1.79),(-1.17,1.83),(-1.95,1.71),(-1.38,1.61),(-2.0,1.42),(-1.18,1.43),(-1.25,1.33),(-2.13,1.25),(-2.19,1.24),(-1.71,1.22),(-1.81,1.14),(-1.97,.97),(-2.19,1.02),(-2.09,.79),(-2.02,.75),(-2.15,.65),(-2.06,.52),(-2.05,.32),(-2.19,.29),(-1.98,.06),(-2.03,-.11),(-2.05,-.28),(-2.12,-.46),(-1.7,-.39),(-2.01,-.64),(-2.17,-.66),(-2.1,-.78),(-1.98,-.79),(-1.79,-.83),(-1.86,-.99),(-2.18,-1.04),(-1.63,-.93),(-1.55,-1.31),(-1.58,-1.46),(-1.8,-1.9),(-1.13,-1.69),(-1.17,-1.74),(-1.18,-1.91),(-1.11,-1.95),(-1.13,-2.14),(-.66,-1.74),(-.56,-1.86),(-.34,-1.65),(.45,-1.47),(.84,-1.42),(.57,-1.26),(.24,-1.33),(1.43,-1.14),(1.49,-.92),(1.61,-.98),(1.07,-1.05),(1.12,-1.14),(.94,-.9),(1.41,-.45),(1.17,-.44),(1.24,-.02),(1.59,.12),(1.14,.15),(1.87,.43),(1.78,.34),(2.67,.93),(2.4,.93),(2.56,1.22),(2.72,1.37),(2.61,1.5),(2.78,1.6),(2.89,1.57),(2.96,1.61),(2.64,1.66),(2.56,1.74),(2.44,1.97),(2.54,1.94),(2.32,1.92),(2.26,1.83),(2.81,2.02),(2.81,1.89),(2.93,2.43),(3.06,2.29),(3.09,2.25),(3.18,1.97),(1.7,1.83),(1.63,1.72),(1.3,1.73),(1.92,1.68),(2.13,1.7),(1.37,1.5),(1.31,1.46),(.45,1.3),(.22,1.47),(.05,1.72),(-.08,1.7),(-.29,1.72),(-.41,1.69),(-.58,1.69),(-.73,1.62),(-.97,1.51),
(-1.05,-1.6),(-1.08,-1.42),(-.85,-1.6),(-.88,-1.62),(-.75,-1.62),(-.62,-1.55),(-.5,-1.6),(-.24,-1.55),(-.15,-1.58),(-.19,-1.62),(-.45,-1.55),(.27,-1.2),(.3,-1.12)]
gmcbn_rows = [
(1.58,[-.68,-.62,-.42,-.35,-.28,-.2,-.12,-.04,.02,.08]),
(1.47,[-.85,-.78,-.7,-.62,-.55,-.48,-.38,-.32,-.25,-.12,-.06,.02,.1]),
(1.36,[-1.02,-.92,-.82,-.72,-.65,-.55,-.47,-.38,-.3,-.22,-.14,-.03,.05,.1,.2,.28,.35,1.0,1.05,1.15,1.3,1.55,1.83,1.95,2.0,2.15,2.25]),
(1.25,[-1.0,-.9,-.8,-.7,-.62,-.55,-.47,-.4,-.32,-.25,-.17,-.1,-.02,.07,.15,.27,.33,.55,.68,.95,1.03,1.1,1.2,1.4,1.5,1.6,1.72,1.9,2.05,2.15,2.25,2.32,2.42]),
(1.14,[-1.82,-1.7,-1.52,-1.4,-1.25,-1.12,-.98,-.88,-.78,-.68,-.6,-.53,-.46,-.39,-.32,-.25,-.18,-.1,-.02,.08,.15,.22,.3,.42,.55,.62,.8,.92,1.05,1.15,1.25,1.37,1.45,1.55,1.65,1.75,1.85,2.0,2.1,2.2,2.28,2.37,2.4]),
(1.03,[-1.8,-1.67,-1.55,-1.45,-1.3,-1.22,-.92,-.82,-.72,-.64,-.57,-.5,-.43,-.36,-.29,-.22,-.15,-.08,.02,.1,.2,.3,.4,.5,.6,.75,.88,1.0,1.1,1.18,1.28,1.35,1.45,1.55,1.63,1.72,1.8,2.0,2.08,2.2,2.28]),
(.93,[-1.72,-1.6,-1.48,-1.4,-1.27,-1.15,-1.08,-.98,-.88,-.78,-.7,-.62,-.55,-.48,-.41,-.34,-.27,-.2,-.13,-.06,.02,.1,.2,.3,.37,.45,.55,.65,.72,.82,.9,.98,1.07,1.15,1.25,1.33,1.42,1.52,1.6,1.68,1.76,1.85,2.02,2.15,2.27]),
(.82,[-1.8,-1.65,-1.52,-1.43,-1.3,-1.2,-1.12,-1.02,-.92,-.82,-.72,-.64,-.57,-.5,-.43,-.36,-.3,-.23,-.16,-.09,-.02,.07,.15,.25,.35,.42,.5,.58,.65,.72,.8,.88,.95,1.03,1.12,1.22,1.32,1.4,1.5,1.58,1.66,1.75,1.9,1.98,2.05,2.27]),
(.71,[-1.67,-1.58,-1.5,-1.36,-1.25,-1.12,-1.02,-.92,-.82,-.74,-.66,-.58,-.51,-.44,-.37,-.3,-.24,-.17,-.1,-.03,.05,.12,.2,.27,.35,.42,.48,.55,.62,.69,.76,.83,.9,.97,1.05,1.17,1.25,1.33,1.45,1.52,1.6,1.72,1.85,1.9]),
(.6,[-1.72,-1.52,-1.42,-1.28,-1.15,-1.05,-.95,-.85,-.77,-.69,-.61,-.54,-.47,-.4,-.33,-.27,-.2,-.13,-.06,.01,.08,.15,.22,.29,.36,.43,.5,.57,.63,.7,.77,.84,.92,1.0,1.12,1.2,1.3,1.42,1.55]),
(.48,[-1.85,-1.75,-1.55,-1.42,-1.3,-1.18,-1.08,-.98,-.88,-.8,-.72,-.64,-.57,-.5,-.43,-.36,-.3,-.23,-.16,-.09,-.02,.05,.12,.19,.26,.33,.4,.47,.54,.61,.68,.75,.82,.9,.98,1.2,1.3,1.52,1.6]),
(.36,[-1.9,-1.82,-1.72,-1.58,-1.45,-1.32,-1.2,-1.1,-1.0,-.88,-.78,-.7,-.62,-.55,-.48,-.41,-.34,-.27,-.2,-.13,-.06,.01,.08,.15,.22,.29,.36,.43,.5,.57,.64,.72,.8,.88,.95,1.2,1.3,1.35,1.55,1.62]),
(.24,[-1.9,-1.75,-1.62,-1.52,-1.42,-1.28,-1.15,-1.05,-.95,-.85,-.75,-.66,-.58,-.51,-.44,-.37,-.3,-.23,-.16,-.09,-.02,.05,.12,.19,.26,.33,.4,.47,.54,.61,.68,.75,.82,.9,.98]),
(.13,[-1.78,-1.65,-1.5,-1.42,-1.27,-1.18,-1.05,-.93,-.82,-.75,-.66,-.58,-.51,-.44,-.37,-.3,-.23,-.16,-.09,-.02,.05,.12,.19,.26,.33,.4,.47,.54,.61,.68,.76,.85,.93,.98]),
(.02,[-1.55,-1.45,-1.38,-1.25,-1.15,-1.05,-.92,-.82,-.74,-.66,-.58,-.5,-.44,-.37,-.3,-.23,-.16,-.09,-.02,.05,.12,.19,.26,.33,.4,.47,.54,.61,.68,.76,.88,.98]),
(-.1,[-1.53,-1.43,-1.3,-1.2,-1.1,-1.0,-.88,-.8,-.72,-.64,-.56,-.48,-.42,-.35,-.28,-.21,-.14,-.07,0,.07,.14,.21,.28,.35,.42,.49,.56,.63,.7,.82,.92,1.0,1.08]),
(-.22,[-1.58,-1.4,-1.32,-1.22,-1.12,-1.02,-.9,-.78,-.7,-.62,-.55,-.48,-.41,-.35,-.28,-.21,-.14,-.07,0,.07,.14,.21,.28,.35,.42,.49,.56,.63,.7,.78,.85,.95,1.05,1.12]),
(-.33,[-1.55,-1.25,-1.18,-1.08,-1.0,-.62,-.55,-.48,-.41,-.34,-.27,-.2,-.13,-.06,.01,.08,.15,.22,.29,.36,.43,.5,.57,.64,.72,.8,.9,.98,1.05]),
(-.44,[-1.55,-1.38,-1.28,-1.2,-1.1,-1.0,-.88,-.78,-.6,-.53,-.46,-.39,-.32,-.25,-.18,-.11,-.04,.03,.1,.17,.24,.31,.38,.45,.52,.59,.66,.72,.82,.9,.98]),
(-.55,[-1.5,-1.3,-1.22,-1.15,-1.05,-.95,-.85,-.72,-.6,-.52,-.45,-.38,-.31,-.24,-.17,-.1,-.03,.04,.11,.18,.25,.32,.39,.46,.53,.6,.68,.75,.85,.95,1.0]),
(-.66,[-1.42,-1.3,-1.22,-1.12,-1.03,-.97,-.88,-.78,-.65,-.55,-.48,-.41,-.35,-.28,-.21,-.14,-.07,0,.07,.14,.21,.28,.35,.42,.5,.58,.65,.72,.82,.95]),
(-.77,[-1.55,-1.45,-1.38,-1.28,-1.15,-1.02,-.95,-.82,-.72,-.58,-.5,-.44,-.38,-.32,-.25,-.18,-.11,-.04,.03,.1,.17,.24,.31,.38,.45,.52,.6,.72]),
(-.88,[-1.55,-1.45,-1.32,-1.22,-1.12,-.9,-.75,-.6,-.5,-.44,-.38,-.31,-.25,-.18,-.11,-.04,.03,.1,.17,.24,.31,.38,.48,.55,.62,.72]),
(-.99,[-1.13,-1.03,-.88,-.74,-.62,-.54,-.48,-.42,-.36,-.3,-.23,-.16,-.09,-.02,.05,.12,.2,.3,.42,.5,.65]),
(-1.1,[-1.2,-1.1,-1.0,-.85,-.75,-.67,-.58,-.5,-.44,-.37,-.3,-.23,-.16,-.09,-.02,.05,.12,.2,.28]),
(-1.21,[-1.1,-.98,-.88,-.75,-.67,-.6,-.53,-.46,-.4,-.33,-.26,-.19,-.12,-.04,.05,.15,.28]),
(-1.32,[-1.12,-.95,-.82,-.73,-.66,-.6,-.53,-.47,-.4,-.33,-.26,-.18,-.1,-.02,.05]),
(-1.43,[-1.08,-.85,-.72,-.65,-.58,-.52,-.45,-.38,-.3,-.22,-.14,-.1]),
(-1.54,[-1.08,-.72,-.68,-.6,-.52,-.44,-.38,-.32,-.2,-.15]),
# second pass over the dark parts
(1.08,[-.72,-.5,-.33,-.15,.05,.26,.62,1.42,1.7]),
(.98,[-1.2,-.66,-.46,-.3,-.12,.06,.25,1.22,1.5,1.78]),
(.88,[-.86,-.53,-.39,-.25,-.11,.03,.2,.6,.85,1.28,1.46,1.62,1.82]),
(.77,[-1.08,-.62,-.47,-.33,-.2,-.06,.1,.3,.52,.78,1.0,1.38,1.56,1.7]),
(.66,[-.72,-.51,-.38,-.24,-.1,.04,.18,.33,.5,.67,.86,1.1]),
(.54,[-1.0,-.58,-.44,-.3,-.16,-.02,.12,.26,.44,.6,.74,.96]),
(.42,[-.75,-.5,-.36,-.22,-.08,.06,.2,.36,.52,.7,.86]),
(.3,[-.92,-.56,-.42,-.28,-.14,0,.14,.29,.46,.66]),
(.18,[-.72,-.48,-.34,-.2,-.06,.08,.22,.38,.56,.8]),
(.07,[-.88,-.55,-.41,-.27,-.13,.01,.15,.3,.5,.72]),
(-.04,[-.7,-.46,-.32,-.18,-.04,.1,.24,.4,.6,.85]),
(-.16,[-.52,-.38,-.24,-.1,.04,.18,.33,.52,.75]),
(-.27,[-.57,-.43,-.3,-.16,-.02,.12,.26,.42,.62]),
(-.38,[-.5,-.36,-.22,-.08,.06,.2,.34,.5,.76]),
(-.5,[-.56,-.42,-.28,-.14,0,.14,.28,.42,.62]),
(-.61,[-.5,-.36,-.22,-.08,.06,.2,.34,.48]),
(-.72,[-.62,-.47,-.34,-.2,-.06,.08,.22,.36]),
(-.83,[-.56,-.41,-.28,-.15,-.01,.13,.27,.42]),
(-.94,[-.65,-.5,-.37,-.24,-.1,.04,.17,.33]),
(-1.05,[-.55,-.41,-.28,-.14,0,.14]),
(-1.16,[-.68,-.52,-.37,-.24,-.1,.05]),
(-1.27,[-.7,-.55,-.43,-.3,-.16]),
(-1.38,[-.62,-.48,-.35,-.25]),
# third pass, black core
(.4,[-.41,-.27,-.13,.01,.15]),
(.2,[-.4,-.26,-.12,.02,.16,.3]),
(.05,[-.43,-.29,-.15,-.01,.13,.27]),
(-.07,[-.37,-.23,-.09,.05,.19,.33]),
(-.18,[-.31,-.17,-.03,.11,.25,.39]),
(-.3,[-.36,-.22,-.08,.06,.2,.34]),
(-.41,[-.43,-.29,-.15,-.01,.13,.27,.41]),
(-.47,[-.35,-.21,-.07,.07,.21,.35]),
(-.58,[-.43,-.29,-.15,-.01,.13,.27,.41]),
(-.64,[-.34,-.2,-.06,.08,.22,.36]),
(-.69,[-.42,-.28,-.14,0,.14,.28]),
(-.75,[-.5,-.36,-.22,-.08,.06,.2,.34]),
(-.8,[-.44,-.3,-.16,-.02,.12,.26]),
(-.86,[-.5,-.36,-.22,-.08,.06,.2,.36]),
(-.91,[-.43,-.29,-.15,-.01,.13,.27]),
(-.97,[-.56,-.42,-.28,-.14,0,.14]),
(-1.02,[-.49,-.35,-.21,-.07,.07,.2]),
(-1.08,[-.57,-.43,-.29,-.15,-.01,.13]),
(-1.13,[-.5,-.36,-.22,-.08,.06]),
(-1.19,[-.56,-.42,-.28,-.14,0]),
(-1.25,[-.5,-.36,-.22,-.08]),
(-1.3,[-.56,-.42,-.28,-.14]),
]


def build_frame(pts, rows, col_y=None):
    # rows are (y, [x, x, ...]) read across the panel
    xs = [p[0] for p in pts]
    ys = [p[1] for p in pts]
    for y, row in rows:
        xs += row
        ys += [y] * len(row)
    if col_y:
        xs += [-2] * len(col_y)
        ys += col_y
    return pd.DataFrame({'Akt': xs, 'Erk': ys})


W, H = 1213, 1129
sns.set_style('white')
plt.rcParams['font.family'] = ['Liberation Sans', 'DejaVu Sans']
plt.rcParams['axes.unicode_minus'] = False
plt.rcParams['text.color'] = 'black'
plt.rcParams['xtick.color'] = 'black'
plt.rcParams['ytick.color'] = 'black'

fig = plt.figure(figsize=(W / 100, H / 100), dpi=100, facecolor='white')

panels = [
    ('Observations', '(a)', build_frame(obs_pts, obs_rows, obs_col_y), 113, 84, 18, 456),
    ('GBN samples', '(b)', build_frame(gbn_pts, gbn_rows), 740, 84, 617, 456),
    ('GCBN samples', '(c)', build_frame(gcbn_pts, gcbn_rows), 113, 665, 18, 451),
    ('GMCBN samples', '(d)', build_frame(gmcbn_pts, gmcbn_rows), 740, 665, 617, 451),
]

for title, tag, df, left, top, tag_x, xlab_off in panels:
    ax = fig.add_axes([left / W, 1 - (top + 348) / H, 472.5 / W, 348 / H])
    sns.scatterplot(data=df, x='Akt', y='Erk', ax=ax, s=68, marker='o',
                    facecolor='none', edgecolor='black', linewidth=1.25, legend=False)
    ax.set_xlim(-2.193, 3.18)
    ax.set_ylim(-2.18, 3.17)
    ax.set_xticks(ticks)
    ax.set_yticks(ticks)
    ax.tick_params(axis='x', length=8.5, width=1, color='#222222', pad=15.5, labelsize=18, bottom=True)
    ax.tick_params(axis='y', length=8.5, width=1, color='#222222', pad=18, labelsize=18, left=True)
    for lab in ax.get_yticklabels():
        lab.set_rotation(90)
        lab.set_va('center')
    for sp in ax.spines.values():
        sp.set_visible(True)
        sp.set_color('#222222')
        sp.set_linewidth(1.1)
    ax.set_xlabel('')
    ax.set_ylabel('')
    fig.text((left + 237) / W, 1 - (top - 60) / H, title, ha='center', va='center', fontsize=21.6, fontweight='bold')
    fig.text(tag_x / W, 1 - (top - 40) / H, tag, ha='left', va='center', fontsize=22, family='Liberation Serif')
    fig.text((left + 237) / W, 1 - (top + xlab_off) / H, 'Akt', ha='center', va='center', fontsize=18.5)
    fig.text((left - 91) / W, 1 - (top + 174) / H, 'Erk', ha='center', va='center', rotation=90, fontsize=18.5)

fig.savefig('out.png', dpi=100)
